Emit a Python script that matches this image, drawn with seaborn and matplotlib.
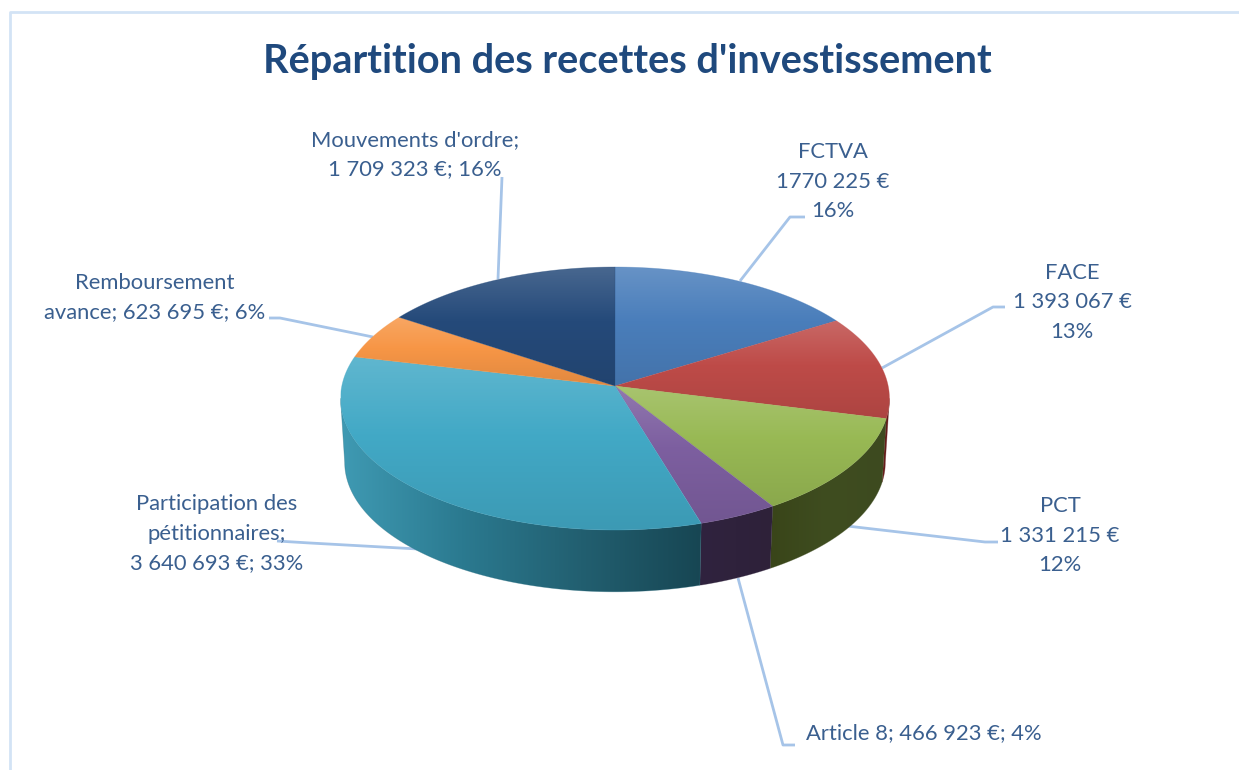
import numpy as np
import matplotlib
matplotlib.use("Agg")
import matplotlib.pyplot as plt
import seaborn as sns
from matplotlib.colors import LinearSegmentedColormap, to_rgb
from matplotlib.patches import Polygon

# data
categories = ["FCTVA", "FACE", "PCT", "Article 8", "Participation des pétitionnaires",
              "Remboursement avance", "Mouvements d'ordre"]
values = [1770225, 1393067, 1331215, 466923, 3640693, 623695, 1709323]
label_lines = [
    ["FCTVA", "1770 225 €", "16%"],
    ["FACE", "1 393 067 €", "13%"],
    ["PCT", "1 331 215 €", "12%"],
    ["Article 8; 466 923 €; 4%"],
    ["Participation des", "pétitionnaires;", "3 640 693 €; 33%"],
    ["Remboursement", "avance; 623 695 €; 6%"],
    ["Mouvements d'ordre;", "1 709 323 €; 16%"],
]
title = "Répartition des recettes d'investissement"

top_colors = ["#4a7ebb", "#be4b48", "#98b954", "#7d5fa0", "#42a9c6", "#f79646", "#254a7a"]
wall_colors = [
    ["#2c4a70", "#2c4a70"],
    ["#6e1f1d", "#5a1a18"],
    ["#394519", "#3f4d20", "#3d4a1f"],
    ["#30233f", "#2e2139"],
    ["#3f9ab3", "#2b7a90", "#225f70", "#174653"],
    ["#8a5020", "#8a5020"],
    ["#16304f", "#16304f"],
]

# pie geometry, in pixels of the picture
cx, cy = 615, 386
rx, ry = 273.2, 130.3
persp = 0.095
depth = 64
shrink = 0.985
# the rim is widest a little below the middle because of the perspective
edge_angle = np.degrees(np.arccos(-persp))

sns.set_theme(style="white")
plt.rcParams["font.family"] = ["Lato", "DejaVu Sans"]

text_color = "#3a5f8f"
title_color = "#1f497d"
leader_color = "#a6c4e8"
frame_color = "#d3e3f5"


def project(angles, lower=False):
    # angle in degrees, clockwise from 12 o'clock, seen in perspective
    t = np.radians(angles)
    u, v = np.sin(t), np.cos(t) * -1
    w = 1 / (1 - persp * v)
    x = rx * u * w
    y = ry * v * w
    if lower:
        return cx + x * shrink, cy + y * shrink + depth
    return cx + x, cy + y


def paint(ax, points, image, cmap, zorder):
    poly = Polygon(points, closed=True, facecolor="none", edgecolor="none",
                   transform=ax.transData)
    ax.add_patch(poly)
    x0, y0 = points.min(axis=0)
    x1, y1 = points.max(axis=0)
    im = ax.imshow(image, cmap=cmap, extent=(x0, x1, y1, y0), aspect="auto",
                   zorder=zorder, interpolation="bilinear", vmin=0, vmax=1)
    im.set_clip_path(poly)


def blend(color, amount):
    # amount > 0 goes to white, amount < 0 goes to black
    rgb = np.array(to_rgb(color))
    if amount > 0:
        return tuple(rgb + (1 - rgb) * amount)
    return tuple(rgb * (1 + amount))


fig = plt.figure(figsize=(12.39, 7.7), dpi=100)
ax = fig.add_axes([0, 0, 1, 1])
ax.set_xlim(0, 1239)
ax.set_ylim(770, 0)
ax.set_autoscale_on(False)
ax.axis("off")

# chart frame, only the top and left sides show
ax.plot([10, 10, 1239], [770, 12, 12], color=frame_color, lw=2, zorder=1)

shares = np.array(values) / sum(values)
stops = np.concatenate([[0], np.cumsum(shares)]) * 360

# side wall, only the part of the rim that faces the viewer
for i in range(len(values)):
    a0 = max(stops[i], edge_angle)
    a1 = min(stops[i + 1], 360 - edge_angle)
    if a1 <= a0:
        continue
    arc = np.linspace(a0, a1, 120)
    upper = np.column_stack(project(arc))
    lower = np.column_stack(project(arc, lower=True))
    points = np.vstack([upper, lower[::-1]])
    # colours are listed left to right
    cmap = LinearSegmentedColormap.from_list(f"wall{i}", wall_colors[i])
    paint(ax, points, np.linspace(0, 1, 256).reshape(1, -1), cmap, 4)
    ax.add_patch(Polygon(points, closed=True, facecolor="none",
                         edgecolor=cmap(0.5), lw=0.5, alpha=0.4, zorder=4))

# top face, each slice has its own light to dark gradient
for i in range(len(values)):
    arc = np.linspace(stops[i], stops[i + 1], 160)
    rim = np.column_stack(project(arc))
    points = np.vstack([[cx, cy], rim])
    base = top_colors[i]
    cmap = LinearSegmentedColormap.from_list(
        f"top{i}", [(0, blend(base, 0.16)), (0.45, blend(base, 0.0)), (1, blend(base, -0.09))])
    paint(ax, points, np.linspace(0, 1, 256).reshape(-1, 1), cmap, 5)
    ax.add_patch(Polygon(points, closed=True, facecolor="none",
                         edgecolor=base, lw=0.5, alpha=0.4, zorder=5))

# leader lines, drawn behind the pie
leaders = [
    ([740, 790, 805], [281, 217, 217]),
    ([882, 993, 1005], [368, 307, 307]),
    ([847, 985, 998], [526, 542, 542]),
    ([738, 783, 795], [578, 745, 745]),
    ([418, 310, 277], [549, 543, 541]),
    ([373, 280, 269], [337, 318, 318]),
    ([498, 502], [279, 177]),
]
for xs, ys in leaders:
    ax.plot(xs, ys, color=leader_color, lw=2, zorder=2, solid_capstyle="butt")

# data labels: x, y of the first line, alignment
label_pos = [
    (833, 152, "center"),
    (1072, 273, "center"),
    (1060, 506, "center"),
    (806, 733, "left"),
    (217, 504, "center"),
    (155, 283, "center"),
    (415, 140, "center"),
]
line_step = 29.5
for lines, (x, y, ha) in zip(label_lines, label_pos):
    for j, line in enumerate(lines):
        ax.text(x, y + j * line_step, line, color=text_color, fontsize=15.8,
                ha=ha, va="center", zorder=6)

ax.text(627, 61, title, color=title_color, fontsize=28.6, fontweight="bold",
        ha="center", va="center", zorder=6)

plt.savefig("out.png", dpi=100, facecolor="white")
